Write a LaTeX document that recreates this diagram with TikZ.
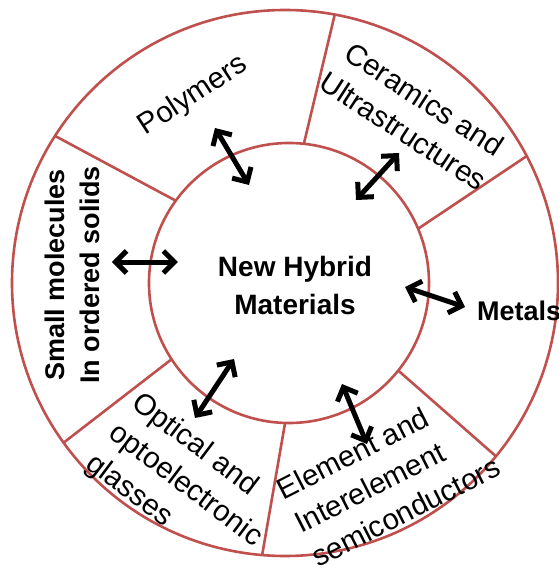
\documentclass[tikz,border=0pt]{standalone}
\usepackage{fontspec}
\setmainfont{Liberation Sans}
\usetikzlibrary{arrows.meta}
\definecolor{ringred}{RGB}{192,80,77}

\begin{document}
\begin{tikzpicture}
  [x=1pt,y=1pt,
   ring/.style={draw=ringred,line width=2.6pt},
   twoway/.style={{Straight Barb[length=11pt,width=22pt]}-{Straight Barb[length=11pt,width=22pt]},line width=5pt},
   every node/.style={inner sep=0pt,font=\fontsize{29.5}{38}\selectfont},
   bold/.style={font=\fontsize{28}{38}\selectfont\bfseries}]
  \useasboundingbox (-285,-282) rectangle (273,283);
  \coordinate (c) at (0,0);
  \coordinate (ci) at (4,0);
  \draw[ring] (c) circle (273);
  \draw[ring] (ci) circle (140);
  \foreach \a/\b in {144/147.4,83.9/79.5,22.8/27.7,-38.7/-39.4,-91.6/-94.8,213/215.8}
    \draw[ring] (ci) ++(\a:140) -- (\b:273);

  \node[bold,align=center] (hub) at (10,-2) {New Hybrid\\Materials};
  \node[anchor=base west,font=\fontsize{27}{32}\selectfont\bfseries] (metals) at (192,-37) {Metals};
  \node[rotate=90,align=center,font=\fontsize{27}{35}\selectfont\bfseries] (small) at (-212.5,8) {Small molecules\\In ordered solids};
  \node[rotate=33] (poly) at (-92,187) {Polymers};
  \node[rotate=-33,align=center] (cer) at (129,168) {Ceramics and\\Ultrastructures};
  \node[rotate=-37,align=left,anchor=north west] (opt) at (-142,-106) {Optical and\\optoelectronic\\glasses};
  \node[rotate=27,align=left,anchor=north west] (elem) at (-11,-198) {Element and\\Interelement\\semiconductors};

  \coordinate (m1) at (-70,155);  \coordinate (h1) at (-36,98);
  \coordinate (m2) at (114,130);  \coordinate (h2) at (71,83);
  \coordinate (m3) at (180,-24);  \coordinate (h3) at (120,-4);
  \coordinate (m4) at (82,-161);  \coordinate (h4) at (57,-101);
  \coordinate (m5) at (-90,-135); \coordinate (h5) at (-51,-76);
  \coordinate (m6) at (-173,21);  \coordinate (h6) at (-107,21);

  \foreach \from/\to in {m1/h1,m2/h2,m3/h3,m4/h4,m5/h5,m6/h6}
    \draw[twoway] (\from) -- (\to);
\end{tikzpicture}
\end{document}
